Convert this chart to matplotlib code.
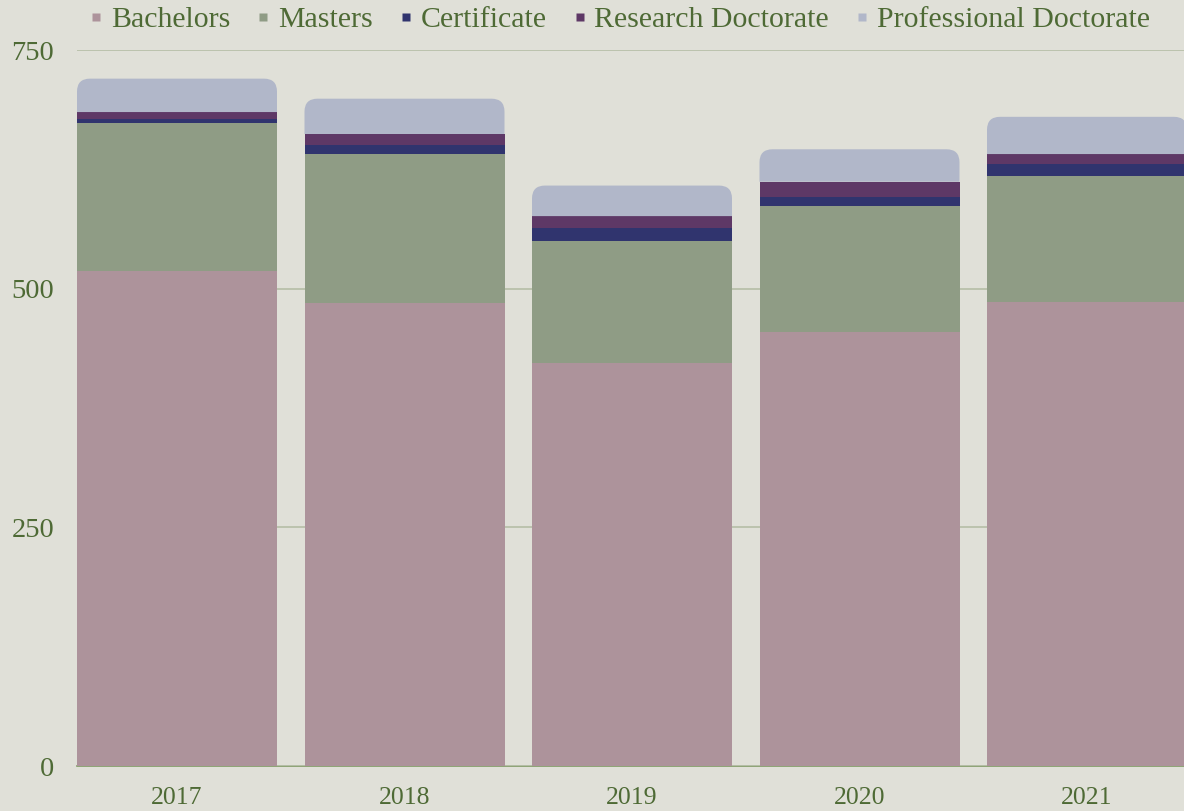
import numpy as np
import matplotlib.pyplot as plt
from matplotlib.path import Path
from matplotlib.patches import PathPatch
from matplotlib.lines import Line2D

plt.rcParams['font.family'] = ['Liberation Serif', 'DejaVu Serif']

# Данные
years = ["2017", "2018", "2019", "2020", "2021"]
bachelors = [518, 485, 422, 455, 486]
masters = [156, 156, 128, 132, 132]
certificate = [4, 10, 14, 9, 13]
research_doc = [7, 11, 12, 16, 10]
professional_doc = [35, 37, 32, 34, 39]

series_names = ["Bachelors", "Masters", "Certificate", "Research Doctorate", "Professional Doctorate"]
series_colors = ["#ad939b", "#8f9c85", "#30346e", "#5e3866", "#b1b7c9"]

bg = "#e0e0d8"
text_color = "#4e6a35"
grid_color = "#b9c0aa"

fig = plt.figure(figsize=(11.84, 8.11), dpi=100, facecolor=bg)
ax = fig.add_axes([77 / 1184, 1 - 766 / 811, 1 - 77 / 1184, (766 - 50) / 811])
ax.set_facecolor(bg)

x = np.arange(len(years))
width = 200 / 227.5

# нижние сегменты — обычные столбики
lower = [bachelors, masters, certificate, research_doc]
bottom = np.zeros(len(years))
for vals, col in zip(lower, series_colors[:4]):
    ax.bar(x, vals, width=width, bottom=bottom, color=col, linewidth=0, zorder=3)
    bottom += np.array(vals)

# верхний сегмент со скруглёнными углами
rx = 13 / 227.5
ry = 13 / (716 / 750)
for xi, y0, h in zip(x, bottom, professional_doc):
    xl, xr = xi - width / 2, xi + width / 2
    y1 = y0 + h
    verts = [(xl, y0), (xl, y1 - ry), (xl, y1), (xl + rx, y1), (xr - rx, y1),
             (xr, y1), (xr, y1 - ry), (xr, y0), (xl, y0)]
    codes = [Path.MOVETO, Path.LINETO, Path.CURVE3, Path.CURVE3, Path.LINETO,
             Path.CURVE3, Path.CURVE3, Path.LINETO, Path.CLOSEPOLY]
    ax.add_patch(PathPatch(Path(verts, codes), facecolor=series_colors[4],
                           edgecolor='none', zorder=3))

ax.set_xlim(-width / 2, (1184 - 177) / 227.5)
ax.set_ylim(0, 750)
ax.set_yticks([0, 250, 500, 750])
ax.set_xticks(x)
ax.set_xticklabels(years)
ax.grid(axis='y', color=grid_color, linewidth=1.3, zorder=0)
ax.tick_params(axis='both', length=0, colors=text_color)
ax.tick_params(axis='y', pad=16.5, labelsize=20.5)
ax.tick_params(axis='x', pad=15, labelsize=18.5)
for s in ['top', 'right', 'left']:
    ax.spines[s].set_visible(False)
ax.spines['bottom'].set_color("#7f9a64")
ax.spines['bottom'].set_linewidth(1.2)
ax.spines['bottom'].set_zorder(1)

handles = [Line2D([], [], linestyle='none', marker='s', markersize=5.5,
                  markerfacecolor=c, markeredgecolor='none') for c in series_colors]
fig.legend(handles, series_names, loc='center', bbox_to_anchor=(620 / 1184, 1 - 20 / 811),
           ncol=5, frameon=False, fontsize=21.5, labelcolor=text_color,
           handlelength=0.4, handletextpad=0.3, columnspacing=0.9)

fig.savefig("out.png", dpi=100, facecolor=bg)
